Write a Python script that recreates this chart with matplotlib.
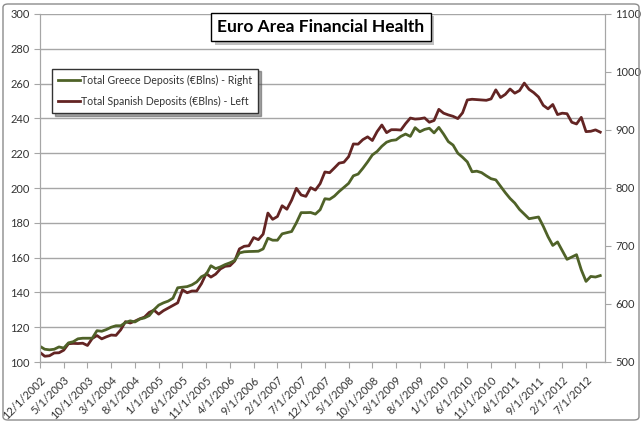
import numpy as np
import matplotlib
matplotlib.use("Agg")
from matplotlib import pyplot as plt
from matplotlib import patheffects as pe
from matplotlib.patches import FancyBboxPatch

plt.rcParams['font.family'] = ['Lato', 'DejaVu Sans']

# monthly values, 12/2002 .. 10/2012
spain = [105.5, 103.3, 103.6, 105.2, 105.3, 106.8, 110.5, 110.7, 110.6, 110.8,
         109.5, 113.5, 115.2, 113.3, 114.5, 115.5, 115.3, 118.5, 123.2, 122.4,
         123.5, 124.8, 125.8, 128.5, 129.8, 127.5, 129.5, 131.0, 132.5, 134.0,
         141.5, 139.8, 140.8, 140.8, 145.0, 150.8, 148.8, 150.5, 153.5, 155.0,
         155.3, 158.0, 165.0, 166.5, 166.8, 171.5, 170.3, 173.5, 185.6, 182.0,
         183.6, 189.8, 187.8, 193.0, 199.8, 196.0, 195.2, 200.2, 198.8, 202.5,
         209.2, 208.8, 211.5, 214.3, 214.8, 218.0, 225.3, 225.2, 227.8, 229.4,
         227.3, 232.4, 236.2, 231.8, 233.5, 233.5, 233.3, 237.0, 240.2, 239.6,
         239.8, 240.3, 237.8, 238.8, 245.2, 243.0, 242.0, 241.2, 239.9, 243.2,
         250.6, 251.0, 250.8, 250.6, 250.4, 251.2, 256.4, 252.0, 253.8, 256.9,
         254.5, 256.0, 260.3, 256.7, 254.8, 252.3, 247.5, 245.5, 248.0, 242.2,
         243.0, 242.7, 237.8, 236.8, 240.6, 232.4, 232.6, 233.4, 232.1]

greece = [527, 522, 521, 522, 526, 524, 533, 535, 540, 541,
          541, 541, 554, 553, 556, 560, 562.5, 562.5, 568, 571,
          569, 574, 576, 580, 590, 598, 602, 605, 610, 628,
          629, 630, 633, 638, 647, 651, 666, 661, 664, 668,
          671, 675, 688, 690, 690.5, 690.7, 691, 695, 713.5, 710,
          710, 721, 723, 725, 740, 757.5, 757.5, 757.8, 755, 762.5,
          781.5, 780.5, 786, 794, 801, 808, 821, 824, 834, 845,
          857, 863, 872, 879, 882, 883, 889, 893, 889, 904,
          897, 901, 903, 895, 904.5, 893, 880, 874, 860, 853,
          845, 828, 829, 826.5, 821, 816, 814, 803, 792, 782,
          774, 763, 755, 747, 748.5, 750, 734, 716, 701, 707,
          692, 677, 681, 685, 659, 639, 647.5, 646.5, 649]

tick_labels = ["12/1/2002", "5/1/2003", "10/1/2003", "3/1/2004", "8/1/2004",
               "1/1/2005", "6/1/2005", "11/1/2005", "4/1/2006", "9/1/2006",
               "2/1/2007", "7/1/2007", "12/1/2007", "5/1/2008", "10/1/2008",
               "3/1/2009", "8/1/2009", "1/1/2010", "6/1/2010", "11/1/2010",
               "4/1/2011", "9/1/2011", "2/1/2012", "7/1/2012"]

x = np.arange(len(spain))
grid_col = "#a6a6a6"
text_col = "#333333"

fig = plt.figure(figsize=(6.42, 4.23), dpi=100)
ax = fig.add_axes([40/642, 1 - 362/423, 565/642, 348/423])
ax2 = ax.twinx()

# chart area border
fig.patches.append(FancyBboxPatch((3/642, 3/423), 636/642, 416/423,
                                  boxstyle="round,pad=0,rounding_size=0.008",
                                  transform=fig.transFigure, fill=False,
                                  edgecolor="#8c8c8c", lw=1))

l_spain, = ax.plot(x, spain, color="#632423", lw=2.0, solid_joinstyle="round")
l_greece, = ax2.plot(x, greece, color="#4f6228", lw=2.0, solid_joinstyle="round")

ax.set_xlim(0, 119)
ax.set_ylim(100, 300)
ax2.set_ylim(500, 1100)
ax.set_yticks(np.arange(100, 301, 20))
ax2.set_yticks(np.arange(500, 1101, 100))
ax.set_xticks(np.arange(0, 116, 5))
ax.set_xticklabels(tick_labels, rotation=45, ha="right", va="top",
                   rotation_mode="anchor")
ax.yaxis.grid(True, color=grid_col, lw=1.0)
ax.set_axisbelow(True)

for a in (ax, ax2):
    for s in a.spines.values():
        s.set_color(grid_col)
    a.tick_params(colors=grid_col, labelcolor=text_col, labelsize=8,
                  length=4, width=0.8, direction="out")
ax.tick_params(axis="x", pad=5)
ax.spines["top"].set_visible(False)
ax2.spines["top"].set_visible(False)

t = fig.text(321/642, 1 - 27/423, "Euro Area Financial Health",
             ha="center", va="center", fontsize=12.5, fontweight="bold",
             color="black",
             bbox=dict(boxstyle="square,pad=0.35", fc="white", ec="black", lw=1))
t.get_bbox_patch().set_path_effects([
    pe.SimplePatchShadow(offset=(2.5, -2.5), shadow_rgbFace="#999999", alpha=0.6),
    pe.Normal()])

leg = ax.legend([l_greece, l_spain],
                ["Total Greece Deposits (€Blns) - Right",
                 "Total Spanish Deposits (€Blns) - Left"],
                loc="upper left", bbox_to_anchor=(0.012, 0.858),
                fontsize=7.6, frameon=True, fancybox=False, shadow=True,
                handlelength=2.0, handletextpad=0.1, borderpad=0.6,
                labelspacing=0.9, labelcolor=text_col)
leg.get_frame().set_edgecolor("#333333")
leg.get_frame().set_linewidth(1.0)
leg.remove()
ax2.add_artist(leg)

fig.savefig("out.png", dpi=100)
